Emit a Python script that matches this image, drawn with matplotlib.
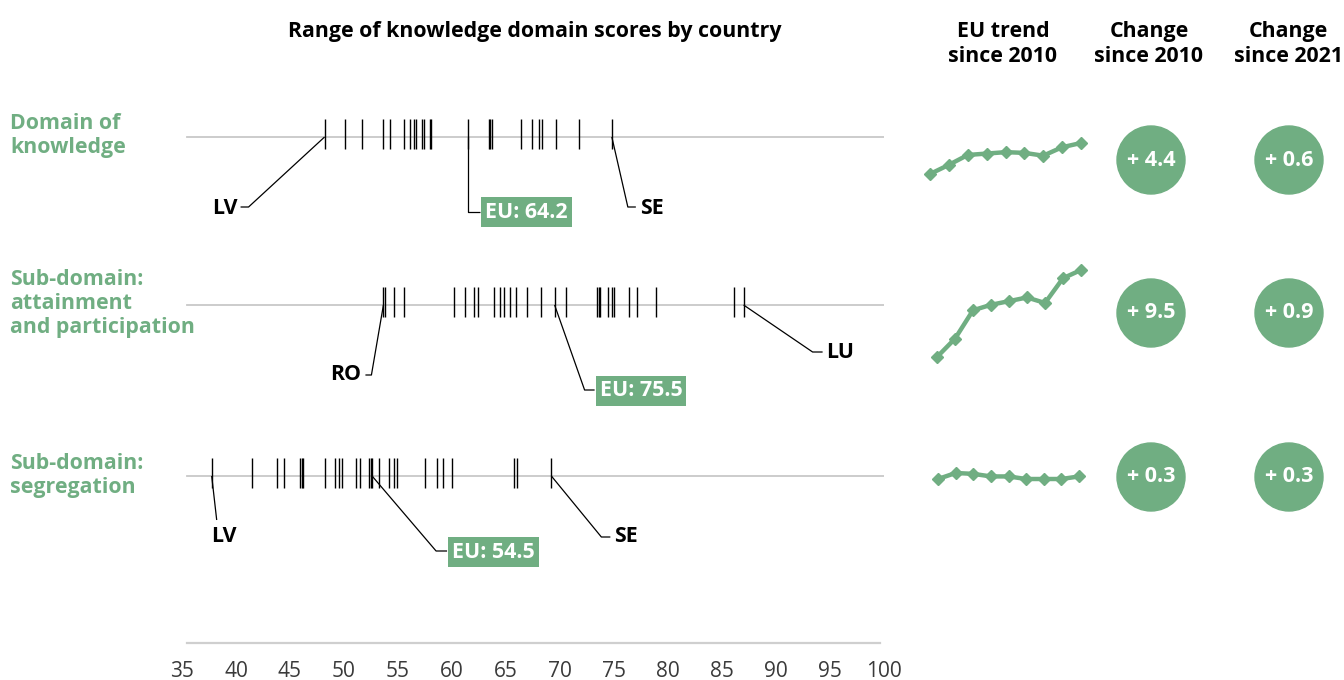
import matplotlib
matplotlib.use("Agg")
import matplotlib.pyplot as plt
from matplotlib.patches import Circle

plt.rcParams['font.family'] = ['Open Sans', 'DejaVu Sans']

GREEN = '#70ae82'
W, H = 1344, 680
FS = 15.4

# Dati
row_labels = ['Domain of\nknowledge',
              'Sub-domain:\nattainment\nand participation',
              'Sub-domain:\nsegregation']

knowledge_scores = [48.2, 50.1, 51.7, 53.65, 54.26, 55.56, 56.1, 56.5, 56.67, 57.25,
                    57.4, 58.0, 58.1, 61.5, 63.4, 63.55, 63.7, 66.4, 67.4, 68.1,
                    68.3, 69.6, 71.8, 74.8]
attainment_scores = [53.65, 53.8, 54.6, 55.6, 60.2, 61.2, 62.0, 62.4, 63.9, 64.4,
                     64.8, 65.4, 65.9, 66.9, 68.2, 69.5, 70.6, 73.4, 73.6, 73.7,
                     74.4, 74.8, 75.0, 76.4, 77.1, 78.9, 86.1, 87.0]
segregation_scores = [37.75, 41.45, 43.8, 44.4, 45.9, 46.1, 46.2, 48.2, 49.2, 49.5,
                      49.8, 51.1, 51.5, 52.3, 52.5, 52.6, 53.2, 54.2, 54.6, 54.9,
                      57.5, 58.6, 59.2, 60.0, 65.7, 66.0, 69.2]

min_country = ['LV', 'RO', 'LV']
min_score = [48.2, 53.65, 37.75]
max_country = ['SE', 'LU', 'SE']
max_score = [74.8, 87.0, 69.2]
eu_position = [61.5, 69.5, 52.6]
eu_value = [64.2, 75.5, 54.5]

trend_knowledge = [59.8, 61.1, 62.5, 62.7, 62.9, 62.8, 62.4, 63.6, 64.2]
trend_attainment = [66.0, 68.0, 71.1, 71.7, 72.1, 72.5, 71.9, 74.6, 75.5]
trend_segregation = [54.2, 54.9, 54.8, 54.5, 54.5, 54.2, 54.2, 54.2, 54.5]

change_2010 = [4.4, 9.5, 0.3]
change_2021 = [0.6, 0.9, 0.3]

x_ticks = list(range(35, 101, 5))

# Layout (pixel)
line_y = [137, 305, 476]
label_top = [113, 269, 453]
circle_y = [160, 313, 477]
circle_x = [1151, 1289]
spark_box = [(930, 1081, 143, 174), (937, 1081, 270, 357), (938, 1079, 473, 479)]

# leader: (elbow dx, elbow y, end dx, text dx, text y, ha)
min_leader = [(-76, 207, -84, -87, 208, 'right'),
              (-12, 375, -18, -22, 375, 'right'),
              (5, 520, 5, 12, 536, 'center')]
max_leader = [(16, 207, 24, 28, 208, 'left'),
              (69, 352, 79, 83, 352, 'left'),
              (50, 537, 59, 63, 537, 'left')]
eu_leader = [(0, 212, 12, 17, 212, 'left'),
             (30, 390, 40, 45, 391, 'left'),
             (64, 551, 75, 80, 552, 'left')]

fig = plt.figure(figsize=(W / 100, H / 100), dpi=100)

# sfondo per testi e cerchi
bg = fig.add_axes([0, 0, 1, 1])
bg.set_xlim(0, W)
bg.set_ylim(H, 0)
bg.axis('off')

# asse delle strisce
x0_px, x1_px, axis_y = 182, 884, 643
ax = fig.add_axes([x0_px / W, (H - axis_y) / H, (x1_px - x0_px) / W, axis_y / H])
ax.set_xlim(35, 100)
ax.set_ylim(axis_y, 0)
ppu = (x1_px - x0_px) / (100 - 35)
for s in ['top', 'left', 'right', 'bottom']:
    ax.spines[s].set_visible(False)
ax.plot([35.5, 99.6], [axis_y, axis_y], color='#cfcfcf', lw=1.6, clip_on=False)
ax.set_yticks([])
ax.set_xticks(x_ticks)
ax.set_xticklabels([str(t) for t in x_ticks])
ax.tick_params(axis='x', length=0, pad=13, labelsize=15, labelcolor='#3a3a3a')
ax.patch.set_alpha(0)


def leader(v, y0, spec, text, boxed=False):
    edx, ey, endx, tdx, ty, ha = spec
    ax.plot([v, v + edx / ppu, v + endx / ppu], [y0, ey, ey],
            color='black', lw=0.9, solid_capstyle='butt', zorder=4)
    if boxed:
        ax.text(v + tdx / ppu, ty, text, ha=ha, va='center', fontsize=FS,
                fontweight='bold', color='white', zorder=5,
                bbox=dict(facecolor=GREEN, edgecolor='none', pad=3))
    else:
        ax.text(v + tdx / ppu, ty, text, ha=ha, va='center', fontsize=FS,
                fontweight='bold', color='black', zorder=5)


all_scores = [knowledge_scores, attainment_scores, segregation_scores]
trends = [trend_knowledge, trend_attainment, trend_segregation]

for i in range(3):
    y = line_y[i]
    ax.plot([35.5, 100], [y, y], color='#c8c8c8', lw=1.3, zorder=1)
    ax.vlines(all_scores[i], y - 18, y + 12, color='black', lw=1.0, zorder=3)

    leader(min_score[i], y, min_leader[i], min_country[i])
    leader(max_score[i], y, max_leader[i], max_country[i])
    leader(eu_position[i], y, eu_leader[i], f'EU: {eu_value[i]}', boxed=True)

    bg.text(10, label_top[i], row_labels[i], ha='left', va='top', fontsize=FS,
            fontweight='bold', color=GREEN, linespacing=1.2)

    # mini trend
    sx0, sx1, sy_top, sy_bot = spark_box[i]
    sax = fig.add_axes([sx0 / W, (H - sy_bot) / H, (sx1 - sx0) / W, (sy_bot - sy_top) / H])
    sax.plot(range(len(trends[i])), trends[i], color=GREEN, lw=3.2, marker='D',
             markersize=6, clip_on=False)
    sax.set_xlim(0, len(trends[i]) - 1)
    sax.set_ylim(min(trends[i]), max(trends[i]))
    sax.axis('off')

    # cerchi con le variazioni
    for cx, val in zip(circle_x, [change_2010[i], change_2021[i]]):
        bg.add_patch(Circle((cx, circle_y[i]), 34, color=GREEN, zorder=2))
        bg.text(cx, circle_y[i], f'+ {val}', ha='center', va='center', fontsize=15.5,
                fontweight='bold', color='white', zorder=3)

# intestazioni
bg.text(535, 32, 'Range of knowledge domain scores by country', ha='center', va='center',
        fontsize=FS, fontweight='bold', color='black')
for hx, ht in zip([1003, 1149, 1288], ['EU trend\nsince 2010', 'Change\nsince 2010',
                                       'Change\nsince 2021']):
    bg.text(hx, 44, ht, ha='center', va='center', fontsize=FS, fontweight='bold',
            color='black', linespacing=1.2)

fig.savefig('out.png', dpi=100)
